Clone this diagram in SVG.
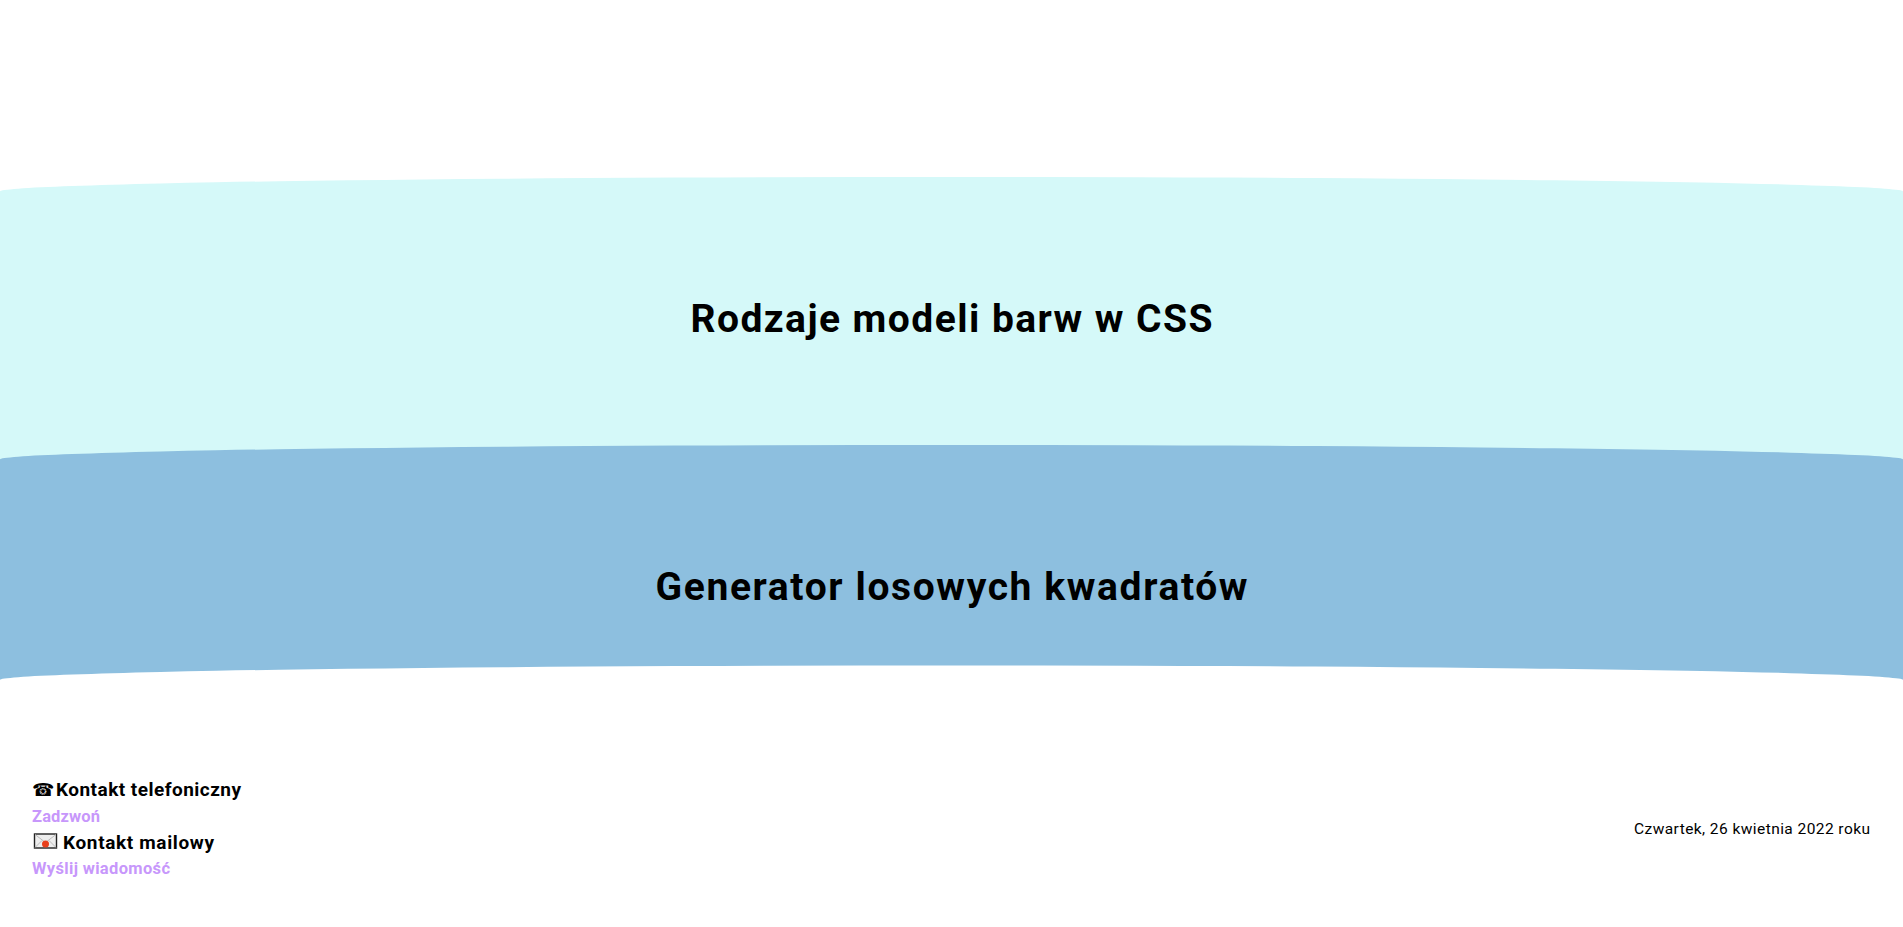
<svg xmlns="http://www.w3.org/2000/svg" width="1903" height="927" viewBox="0 0 1903 927">
<style>
text{font-family:Roboto,"Noto Sans",sans-serif;fill:#000}
.h{font-size:39px;font-weight:700;text-anchor:middle}
.c{font-size:19px;font-weight:700}
.l{font-size:16.5px;font-weight:700;fill:#c797fb}
.d{font-size:15.5px;font-weight:400}
.p{font-size:18px}
</style>
<rect width="1903" height="927" fill="#fff"/>
<g id="band-kolory">
<path d="M0 191.500A951.5 14.500 0 0 1 951.5 177A951.5 14.500 0 0 1 1903 191.500V470H0Z" fill="#d5f9f9"/>
<text class="h" x="951.5" y="332" textLength="522" lengthAdjust="spacing">Rodzaje modeli barw w CSS</text>
</g>
<g id="band-generator">
<path d="M0 459.500A951.5 14.500 0 0 1 951.5 445A951.5 14.500 0 0 1 1903 459.500V680A951.5 14.500 0 0 0 951.5 665.500A951.5 14.500 0 0 0 0 680Z" fill="#8dbfdf"/>
<text class="h" x="951.5" y="600" textLength="592" lengthAdjust="spacing">Generator losowych kwadratów</text>
</g>
<g id="kontakt-telefon">
<text class="p" x="32" y="796" style="font-family:'DejaVu Sans',sans-serif">☎</text>
<text class="c" x="56" y="796" textLength="185" lengthAdjust="spacing">Kontakt telefoniczny</text>
<text class="l" x="32" y="822" textLength="68" lengthAdjust="spacing">Zadzwoń</text>
</g>
<g id="kontakt-mail">
<g id="ikona-koperta">
<rect x="34.5" y="834" width="22" height="14" fill="#eee" stroke="#222" stroke-width="1.4"/>
<path d="M35 834.500L45.500 842.500L56 834.500M35 847.500L42 840.500M56 847.500L49 840.500" fill="none" stroke="#bbb"/>
<circle cx="45.500" cy="844" r="3.500" fill="#e8401c"/>
</g>
<text class="c" x="63" y="849" textLength="151" lengthAdjust="spacing">Kontakt mailowy</text>
<text class="l" x="32" y="874" textLength="138" lengthAdjust="spacing">Wyślij wiadomość</text>
</g>
<g id="data">
<text class="d" x="1634" y="834" textLength="236" lengthAdjust="spacing">Czwartek, 26 kwietnia 2022 roku</text>
</g>
</svg>
